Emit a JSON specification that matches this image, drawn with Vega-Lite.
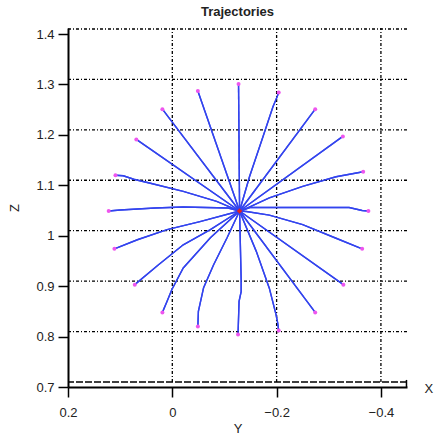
{
  "$schema": "https://vega.github.io/schema/vega-lite/v6.json",
  "width": 339,
  "height": 359,
  "autosize": {"type": "none"},
  "padding": {"left": 68, "top": 28, "right": 29, "bottom": 51},
  "title": {"text": "Trajectories", "fontSize": 13, "font": "Liberation Sans", "fontWeight": "bold", "color": "#222222", "offset": 8},
  "config": {"view": {"stroke": null}, "font": "Liberation Sans"},
  "datasets": {
    "hgrid": [{"Z": 0.81}, {"Z": 0.91}, {"Z": 1.01}, {"Z": 1.11}, {"Z": 1.21}, {"Z": 1.31}, {"Z": 1.41}],
    "base": [{"Z": 0.71}],
    "vgrid": [{"Y": 0, "Z": 0.71, "Z2": 1.412}, {"Y": -0.2, "Z": 0.71, "Z2": 1.412}, {"Y": -0.4, "Z": 0.71, "Z2": 1.412}],
    "bracket": [{"Y": -0.449, "Z": 0.7, "Z2": 0.714}],
    "traj": [
      {"t": 1, "k": 0, "Y": -0.129, "Z": 1.049}, {"t": 1, "k": 1, "Y": -0.127, "Z": 1.301},
      {"t": 2, "k": 0, "Y": -0.129, "Z": 1.049}, {"t": 2, "k": 1, "Y": -0.148, "Z": 1.117}, {"t": 2, "k": 2, "Y": -0.174, "Z": 1.197}, {"t": 2, "k": 3, "Y": -0.193, "Z": 1.256}, {"t": 2, "k": 4, "Y": -0.200, "Z": 1.273}, {"t": 2, "k": 5, "Y": -0.204, "Z": 1.284},
      {"t": 3, "k": 0, "Y": -0.129, "Z": 1.049}, {"t": 3, "k": 1, "Y": -0.274, "Z": 1.251},
      {"t": 4, "k": 0, "Y": -0.129, "Z": 1.049}, {"t": 4, "k": 1, "Y": -0.327, "Z": 1.197},
      {"t": 5, "k": 0, "Y": -0.129, "Z": 1.049}, {"t": 5, "k": 1, "Y": -0.135, "Z": 1.051}, {"t": 5, "k": 2, "Y": -0.186, "Z": 1.075}, {"t": 5, "k": 3, "Y": -0.250, "Z": 1.098}, {"t": 5, "k": 4, "Y": -0.314, "Z": 1.117}, {"t": 5, "k": 5, "Y": -0.340, "Z": 1.122}, {"t": 5, "k": 6, "Y": -0.366, "Z": 1.127},
      {"t": 6, "k": 0, "Y": -0.129, "Z": 1.049}, {"t": 6, "k": 1, "Y": -0.149, "Z": 1.056}, {"t": 6, "k": 2, "Y": -0.339, "Z": 1.056}, {"t": 6, "k": 3, "Y": -0.364, "Z": 1.050}, {"t": 6, "k": 4, "Y": -0.376, "Z": 1.049},
      {"t": 7, "k": 0, "Y": -0.129, "Z": 1.049}, {"t": 7, "k": 1, "Y": -0.142, "Z": 1.048}, {"t": 7, "k": 2, "Y": -0.186, "Z": 1.041}, {"t": 7, "k": 3, "Y": -0.250, "Z": 1.022}, {"t": 7, "k": 4, "Y": -0.314, "Z": 0.995}, {"t": 7, "k": 5, "Y": -0.364, "Z": 0.974},
      {"t": 8, "k": 0, "Y": -0.129, "Z": 1.049}, {"t": 8, "k": 1, "Y": -0.328, "Z": 0.903},
      {"t": 9, "k": 0, "Y": -0.129, "Z": 1.049}, {"t": 9, "k": 1, "Y": -0.274, "Z": 0.848},
      {"t": 10, "k": 0, "Y": -0.129, "Z": 1.049}, {"t": 10, "k": 1, "Y": -0.132, "Z": 1.041}, {"t": 10, "k": 2, "Y": -0.161, "Z": 0.969}, {"t": 10, "k": 3, "Y": -0.186, "Z": 0.896}, {"t": 10, "k": 4, "Y": -0.199, "Z": 0.843}, {"t": 10, "k": 5, "Y": -0.202, "Z": 0.827}, {"t": 10, "k": 6, "Y": -0.204, "Z": 0.812},
      {"t": 11, "k": 0, "Y": -0.129, "Z": 1.049}, {"t": 11, "k": 1, "Y": -0.132, "Z": 0.913}, {"t": 11, "k": 2, "Y": -0.132, "Z": 0.889}, {"t": 11, "k": 3, "Y": -0.128, "Z": 0.870}, {"t": 11, "k": 4, "Y": -0.126, "Z": 0.804},
      {"t": 12, "k": 0, "Y": -0.129, "Z": 1.049}, {"t": 12, "k": 1, "Y": -0.105, "Z": 0.996}, {"t": 12, "k": 2, "Y": -0.079, "Z": 0.942}, {"t": 12, "k": 3, "Y": -0.060, "Z": 0.897}, {"t": 12, "k": 4, "Y": -0.050, "Z": 0.850}, {"t": 12, "k": 5, "Y": -0.049, "Z": 0.820},
      {"t": 13, "k": 0, "Y": -0.129, "Z": 1.049}, {"t": 13, "k": 1, "Y": -0.073, "Z": 0.996}, {"t": 13, "k": 2, "Y": -0.021, "Z": 0.936}, {"t": 13, "k": 3, "Y": 0.001, "Z": 0.893}, {"t": 13, "k": 4, "Y": 0.010, "Z": 0.870}, {"t": 13, "k": 5, "Y": 0.019, "Z": 0.848},
      {"t": 14, "k": 0, "Y": -0.129, "Z": 1.049}, {"t": 14, "k": 1, "Y": -0.073, "Z": 1.012}, {"t": 14, "k": 2, "Y": -0.021, "Z": 0.982}, {"t": 14, "k": 3, "Y": 0.027, "Z": 0.942}, {"t": 14, "k": 4, "Y": 0.072, "Z": 0.903},
      {"t": 15, "k": 0, "Y": -0.129, "Z": 1.049}, {"t": 15, "k": 1, "Y": -0.053, "Z": 1.028}, {"t": 15, "k": 2, "Y": 0.010, "Z": 1.012}, {"t": 15, "k": 3, "Y": 0.067, "Z": 0.992}, {"t": 15, "k": 4, "Y": 0.111, "Z": 0.974},
      {"t": 16, "k": 0, "Y": -0.129, "Z": 1.049}, {"t": 16, "k": 1, "Y": -0.107, "Z": 1.055}, {"t": 16, "k": 2, "Y": -0.021, "Z": 1.057}, {"t": 16, "k": 3, "Y": 0.033, "Z": 1.055}, {"t": 16, "k": 4, "Y": 0.100, "Z": 1.051}, {"t": 16, "k": 5, "Y": 0.122, "Z": 1.049},
      {"t": 17, "k": 0, "Y": -0.129, "Z": 1.049}, {"t": 17, "k": 1, "Y": -0.085, "Z": 1.068}, {"t": 17, "k": 2, "Y": -0.021, "Z": 1.088}, {"t": 17, "k": 3, "Y": 0.042, "Z": 1.104}, {"t": 17, "k": 4, "Y": 0.074, "Z": 1.112}, {"t": 17, "k": 5, "Y": 0.094, "Z": 1.119}, {"t": 17, "k": 6, "Y": 0.109, "Z": 1.120},
      {"t": 18, "k": 0, "Y": -0.129, "Z": 1.049}, {"t": 18, "k": 1, "Y": 0.069, "Z": 1.191},
      {"t": 19, "k": 0, "Y": -0.129, "Z": 1.049}, {"t": 19, "k": 1, "Y": 0.019, "Z": 1.251},
      {"t": 20, "k": 0, "Y": -0.129, "Z": 1.049}, {"t": 20, "k": 1, "Y": -0.049, "Z": 1.287}
    ],
    "ends": [
      {"Y": -0.127, "Z": 1.301}, {"Y": -0.204, "Z": 1.284}, {"Y": -0.274, "Z": 1.251}, {"Y": -0.327, "Z": 1.197}, {"Y": -0.366, "Z": 1.127},
      {"Y": -0.376, "Z": 1.049}, {"Y": -0.364, "Z": 0.974}, {"Y": -0.328, "Z": 0.903}, {"Y": -0.274, "Z": 0.848}, {"Y": -0.204, "Z": 0.812},
      {"Y": -0.126, "Z": 0.804}, {"Y": -0.049, "Z": 0.820}, {"Y": 0.019, "Z": 0.848}, {"Y": 0.072, "Z": 0.903}, {"Y": 0.111, "Z": 0.974},
      {"Y": 0.122, "Z": 1.049}, {"Y": 0.109, "Z": 1.120}, {"Y": 0.069, "Z": 1.191}, {"Y": 0.019, "Z": 1.251}, {"Y": -0.049, "Z": 1.287}
    ],
    "center": [{"Y": -0.129, "Z": 1.049}],
    "xlabel": [{"Y": -0.492, "Z": 0.697, "txt": "X"}]
  },
  "layer": [
    {
      "data": {"name": "traj"},
      "mark": {"type": "line", "color": "#3344ee", "strokeWidth": 1.4, "clip": true},
      "encoding": {
        "x": {
          "field": "Y", "type": "quantitative",
          "scale": {"domain": [-0.45, 0.2], "reverse": true, "nice": false, "zero": false},
          "axis": {
            "title": "Y", "values": [0.2, 0, -0.2, -0.4], "format": "~g", "grid": false,
            "tickSize": 10, "tickWidth": 1.5, "tickColor": "#000000", "domainColor": "#000000", "domainWidth": 2,
            "labelPadding": 9, "labelFontSize": 13, "labelColor": "#222222", "labelFont": "Liberation Sans",
            "labelOverlap": false, "labelFlush": false,
            "titleFontSize": 13, "titleFontWeight": "normal", "titleColor": "#222222", "titleFont": "Liberation Sans", "titlePadding": 3
          }
        },
        "y": {
          "field": "Z", "type": "quantitative",
          "scale": {"domain": [0.7, 1.412], "nice": false, "zero": false},
          "axis": {
            "title": "Z", "values": [0.7, 0.8, 0.9, 1, 1.1, 1.2, 1.3, 1.4], "format": "~g", "grid": false,
            "tickSize": 10, "tickWidth": 1.5, "tickColor": "#000000", "domainColor": "#000000", "domainWidth": 2,
            "labelPadding": 4, "labelFontSize": 13, "labelColor": "#222222", "labelFont": "Liberation Sans",
            "labelOverlap": false, "labelFlush": false,
            "titleFontSize": 13, "titleFontWeight": "normal", "titleColor": "#222222", "titleFont": "Liberation Sans", "titlePadding": 14
          }
        },
        "detail": {"field": "t", "type": "nominal"},
        "order": {"field": "k", "type": "quantitative"}
      }
    },
    {
      "data": {"name": "hgrid"},
      "mark": {"type": "rule", "color": "#000000", "strokeWidth": 1.3, "strokeDash": [3, 2, 1, 2]},
      "encoding": {"y": {"field": "Z", "type": "quantitative"}}
    },
    {
      "data": {"name": "base"},
      "mark": {"type": "rule", "color": "#000000", "strokeWidth": 1.5, "strokeDash": [7, 2]},
      "encoding": {"y": {"field": "Z", "type": "quantitative"}}
    },
    {
      "data": {"name": "vgrid"},
      "mark": {"type": "rule", "color": "#000000", "strokeWidth": 1.3, "strokeDash": [3, 2, 1, 2]},
      "encoding": {
        "x": {"field": "Y", "type": "quantitative"},
        "y": {"field": "Z", "type": "quantitative"},
        "y2": {"field": "Z2"}
      }
    },
    {
      "data": {"name": "bracket"},
      "mark": {"type": "rule", "color": "#000000", "strokeWidth": 1.5},
      "encoding": {
        "x": {"field": "Y", "type": "quantitative"},
        "y": {"field": "Z", "type": "quantitative"},
        "y2": {"field": "Z2"}
      }
    },
    {
      "data": {"name": "traj"},
      "mark": {"type": "line", "color": "#3344ee", "strokeWidth": 1.4},
      "encoding": {
        "x": {"field": "Y", "type": "quantitative"},
        "y": {"field": "Z", "type": "quantitative"},
        "detail": {"field": "t", "type": "nominal"},
        "order": {"field": "k", "type": "quantitative"}
      }
    },
    {
      "data": {"name": "ends"},
      "mark": {"type": "point", "filled": true, "color": "#ee55ee", "size": 16, "opacity": 1},
      "encoding": {
        "x": {"field": "Y", "type": "quantitative"},
        "y": {"field": "Z", "type": "quantitative"}
      }
    },
    {
      "data": {"name": "center"},
      "mark": {"type": "point", "shape": "diamond", "filled": true, "color": "#e02020", "size": 30, "opacity": 1},
      "encoding": {
        "x": {"field": "Y", "type": "quantitative"},
        "y": {"field": "Z", "type": "quantitative"}
      }
    },
    {
      "data": {"name": "xlabel"},
      "mark": {"type": "text", "fontSize": 13, "font": "Liberation Sans", "color": "#222222", "align": "center", "baseline": "middle"},
      "encoding": {
        "x": {"field": "Y", "type": "quantitative"},
        "y": {"field": "Z", "type": "quantitative"},
        "text": {"field": "txt"}
      }
    }
  ]
}
